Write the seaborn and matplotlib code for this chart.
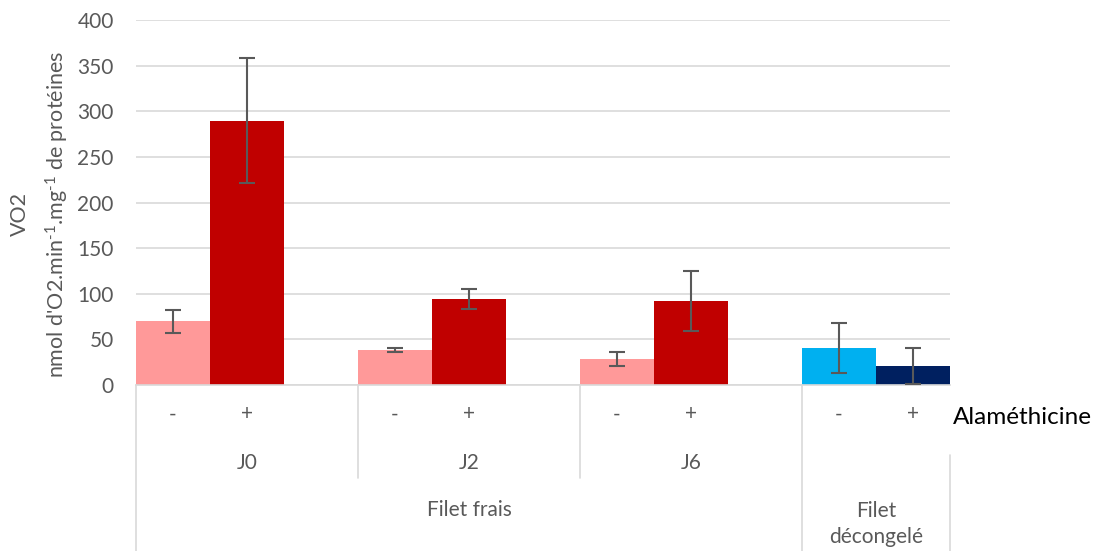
import matplotlib
matplotlib.use("Agg")
import matplotlib.pyplot as plt
import matplotlib.transforms as mtransforms
import seaborn as sns
import pandas as pd
import numpy as np

# ---- data ----
groups = ["J0", "J2", "J6", "Filet décongelé"]
conditions = ["-", "+"]
categories = ["J0 -", "J0 +", "J2 -", "J2 +", "J6 -", "J6 +", "FD -", "FD +"]
values = [70, 290, 38.5, 94, 28.5, 92, 40.5, 21]
errors = [12.5, 69, 2.5, 11, 8, 33, 27, 20]
bar_colors = ["#FF9999", "#C00000", "#FF9999", "#C00000",
              "#FF9999", "#C00000", "#00B0F0", "#002060"]
tick_labels = ["-", "+", "", "-", "+", "", "-", "+", "", "-", "+"]
order = ["J0 -", "J0 +", "gap1", "J2 -", "J2 +", "gap2", "J6 -", "J6 +", "gap3", "FD -", "FD +"]
level2_labels = ["J0", "J2", "J6"]
level3_labels = ["Filet frais", "Filet\ndécongelé"]
yticks = [0, 50, 100, 150, 200, 250, 300, 350, 400]

df = pd.DataFrame({"cat": categories, "val": values, "err": errors})
palette = dict(zip(categories, bar_colors))

sns.set_theme(style="white")
plt.rcParams["font.family"] = ["Lato", "DejaVu Sans"]
plt.rcParams["mathtext.default"] = "regular"

W, H = 1099, 551
fig = plt.figure(figsize=(W / 100, H / 100), dpi=100)
x0, x1, y0, y1 = 136, 950, 385, 20.2
ax = fig.add_axes([x0 / W, 1 - y0 / H, (x1 - x0) / W, (y0 - y1) / H])

sns.barplot(data=df, x="cat", y="val", hue="cat", order=order, palette=palette,
            width=1.0, errorbar=None, legend=False, ax=ax, saturation=1,
            linewidth=0)

# error bars
pos = [order.index(c) for c in categories]
ax.errorbar(pos, values, yerr=errors, fmt="none", ecolor="#595959",
            elinewidth=1.5, capsize=6, capthick=1.5, zorder=5)

ax.set_xlim(-0.5, len(order) - 0.5)
ax.set_ylim(0, 400)
ax.set_yticks(yticks)
ax.set_yticklabels([str(t) for t in yticks])
ax.yaxis.grid(True, color="#D9D9D9", linewidth=1.2)
ax.set_axisbelow(True)
for s in ["top", "right", "left"]:
    ax.spines[s].set_visible(False)
ax.spines["bottom"].set_color("#D9D9D9")
ax.spines["bottom"].set_linewidth(1.2)
ax.tick_params(axis="y", length=0, pad=16, labelsize=15, labelcolor="#595959")
ax.set_xticks(range(len(order)))
ax.set_xticklabels(tick_labels)
ax.tick_params(axis="x", length=0, pad=14, labelsize=15, labelcolor="#595959")
ax.set_xlabel("")
ax.set_ylabel("")

trans = mtransforms.blended_transform_factory(ax.transData, ax.transAxes)
hpx = y0 - y1
def ay(p):
    return (y0 - p) / hpx

# separators
sep_specs = [(-0.5, 385, 551), (2.5, 385, 478), (5.5, 385, 478),
             (8.5, 385, 551), (10.5, 455, 551)]
for xs, ya, yb in sep_specs:
    ax.plot([xs, xs], [ay(ya), ay(yb)], transform=trans, color="#D9D9D9",
            lw=1.2, clip_on=False)

# level 2 labels (centred on each three-slot group)
for i, lab in enumerate(level2_labels):
    ax.text(3 * i + 1, ay(463), lab, transform=trans, ha="center", va="center",
            fontsize=15, color="#595959")
# level 3 labels
ax.text(4.0, ay(510), level3_labels[0], transform=trans, ha="center", va="center",
        fontsize=15, color="#595959")
ax.text(9.5, ay(524), level3_labels[1], transform=trans, ha="center", va="center",
        fontsize=15, color="#595959", linespacing=1.35)

# Alaméthicine label
fig.text(953 / W, 1 - 417 / H, "Alaméthicine", ha="left", va="center",
         fontsize=17.5, color="black")

# y label two lines
fig.text(20 / W, 1 - 214 / H, "VO2", rotation=90, ha="center", va="center",
         fontsize=15.5, color="#595959")
fig.text(57 / W, 1 - 214 / H,
         "nmol d'O2.min$^{\u20101}$.mg$^{\u20101}$ de protéines",
         rotation=90, ha="center", va="center", fontsize=15.5, color="#595959")

fig.savefig("out.png", dpi=100, facecolor="white")
